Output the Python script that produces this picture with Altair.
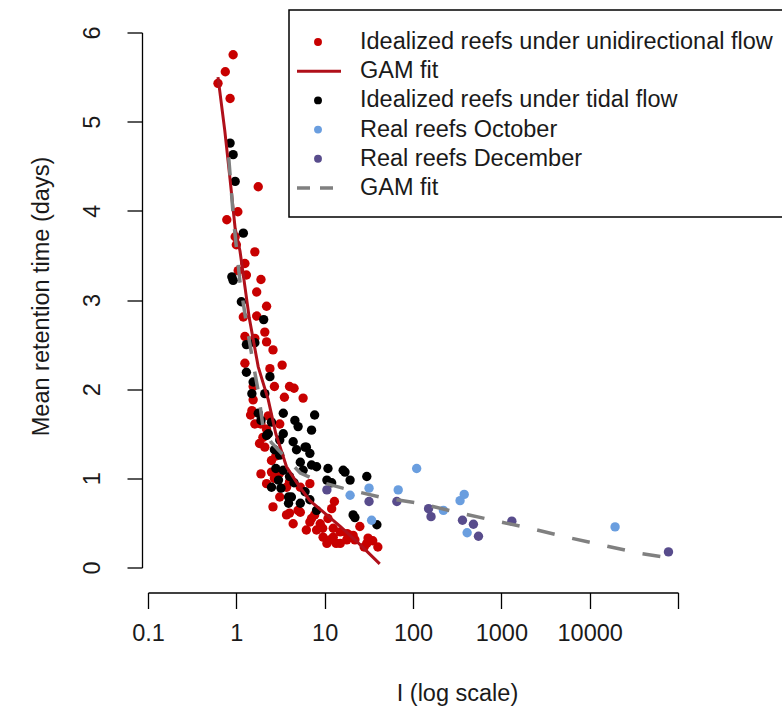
import altair as alt
import pandas as pd

# ---------------- data ----------------
# Idealized reefs under unidirectional flow
uni_x = [0.92, 0.75, 0.62, 0.85, 1.77, 1.04, 0.78, 0.97, 1.00,
         1.62, 1.25, 1.05, 1.30, 1.90, 1.70, 2.20, 1.20, 1.70,
         2.10, 1.25, 1.62, 2.20, 2.60, 1.25, 2.40, 3.30, 2.70,
         4.00, 3.50, 5.70, 4.50, 1.55, 1.50, 1.62, 3.10, 2.30,
         2.00, 2.10, 1.55, 1.45, 1.90, 2.50, 2.70, 3.10, 3.70,
         4.00, 5.30, 6.80, 5.30, 7.70, 6.80, 9.50, 10.9, 12.9,
         12.5, 15.0, 17.8, 21.0, 25.0, 30.0, 31.0, 40.0, 35.0,
         18.0, 22.0, 12.5, 10.6, 1.90, 2.50, 1.83, 4.00, 3.10,
         5.00, 7.10, 8.90, 12.0, 15.0, 28.0, 19.4, 2.20, 2.60,
         3.70, 4.40, 6.20, 8.10, 9.60, 11.5, 13.5, 2.20, 2.80]
uni_y = [5.75, 5.56, 5.43, 5.26, 4.27, 3.99, 3.90, 3.71, 3.62,
         3.54, 3.41, 3.33, 3.28, 3.23, 3.09, 2.93, 2.81, 2.82,
         2.64, 2.59, 2.57, 2.53, 2.44, 2.29, 2.23, 2.27, 2.03,
         2.03, 1.91, 1.90, 2.01, 2.03, 1.76, 1.61, 1.61, 1.70,
         1.46, 1.35, 1.88, 1.71, 1.61, 1.20, 1.00, 1.06, 0.90,
         0.96, 0.90, 0.94, 0.62, 0.59, 0.51, 0.44, 0.55, 0.74,
         0.44, 0.40, 0.31, 0.36, 0.46, 0.27, 0.33, 0.23, 0.30,
         0.38, 0.31, 0.34, 0.27, 1.05, 1.07, 1.39, 0.61, 0.79,
         0.64, 0.55, 0.49, 0.66, 0.27, 0.23, 0.34, 0.94, 0.68,
         0.59, 0.49, 0.42, 0.42, 0.34, 0.31, 0.27, 1.55, 1.25]

# Idealized reefs under tidal flow
tid_x = [0.85, 0.92, 0.97, 1.20, 0.92, 0.89, 1.14, 2.04, 1.62,
         1.30, 2.40, 1.55, 1.50, 1.77, 1.90, 2.50, 3.40, 4.60,
         7.70, 7.10, 5.00, 2.20, 3.10, 4.40, 6.20, 3.40, 2.30,
         2.70, 3.10, 4.80, 6.00, 6.80, 8.10, 5.30, 10.9, 16.2,
         19.4, 30.0, 10.6, 2.50, 3.20, 4.20, 5.30, 3.90, 6.80,
         8.10, 21.0, 22.0, 39.0, 3.40, 4.00, 5.70, 2.80, 17.0,
         7.10, 3.90, 12.0, 1.30, 2.10, 4.50, 6.00, 3.00]
tid_y = [4.76, 4.63, 4.33, 3.75, 3.22, 3.26, 2.98, 2.78, 2.52,
         2.19, 2.14, 2.08, 1.95, 1.73, 1.65, 1.63, 1.73, 1.65,
         1.71, 1.54, 1.58, 1.48, 1.43, 1.41, 1.35, 1.50, 1.50,
         1.32, 1.26, 1.32, 1.35, 1.28, 1.13, 1.18, 1.11, 1.09,
         0.98, 1.02, 0.98, 0.90, 0.89, 0.79, 0.72, 0.72, 0.76,
         0.64, 0.59, 0.56, 0.48, 1.09, 1.02, 1.09, 1.11, 1.07,
         1.15, 0.79, 0.95, 2.50, 1.95, 0.95, 0.85, 0.98]

# Real reefs October
oct_x = [19.4, 31.8, 34.0, 68.0, 110.0, 221.0, 341.0, 380.0, 410.0, 19400.0]
oct_y = [0.81, 0.89, 0.53, 0.87, 1.11, 0.64, 0.75, 0.82, 0.39, 0.455]

# Real reefs December
dec_x = [10.6, 31.8, 65.6, 150.0, 160.0, 363.0, 483.0, 551.0, 1315.0, 78000.0]
dec_y = [0.87, 0.74, 0.74, 0.66, 0.57, 0.53, 0.485, 0.35, 0.52, 0.175]

# GAM fit, idealized unidirectional
fit_uni_x = [0.62, 0.74, 0.85, 0.97, 1.1, 1.4, 1.77, 2.3, 2.8, 3.7, 5.0, 6.8, 10, 15, 25, 42]
fit_uni_y = [5.5, 4.9, 4.35, 3.8, 3.55, 2.8, 2.25, 1.88, 1.5, 1.13, 0.93, 0.75, 0.61, 0.46, 0.26, 0.04]

# GAM fit, tidal + real reefs
fit_all_x = [0.82, 0.93, 1.1, 1.3, 1.55, 1.76, 2.02, 2.5, 3.4, 5.3, 8.9, 16, 42, 120,
             310, 800, 2100, 5500, 14000, 37000, 78000]
fit_all_y = [4.6, 3.9, 3.2, 2.74, 2.29, 1.99, 1.55, 1.40, 1.26, 1.06, 0.96, 0.89, 0.79, 0.72,
             0.62, 0.53, 0.44, 0.34, 0.25, 0.16, 0.11]

legend_labels = ["Idealized reefs under unidirectional flow", "GAM fit",
                 "Idealized reefs under tidal flow", "Real reefs October",
                 "Real reefs December", "GAM fit"]
legend_kinds = ["point", "line", "point", "point", "point", "dash"]

x_ticks = [0.1, 1, 10, 100, 1000, 10000, 100000]
y_ticks = [0, 1, 2, 3, 4, 5, 6]

# ---------------- styling ----------------
FONT = "Liberation Sans"
FS = 23.5
RED_PT = "#C80000"
RED_LN = "#B0101A"
BLACK = "#000000"
BLUE = "#6A9EDF"
PURPLE = "#584C8C"
GRAY = "#808080"
colors = [RED_PT, RED_LN, BLACK, BLUE, PURPLE, GRAY]

W, H = 530, 535
PT = 88

xscale = alt.Scale(type="log", domain=[0.1, 100000], nice=False)
yscale = alt.Scale(domain=[0, 6], nice=False, zero=False)

x_axis = alt.Axis(
    values=x_ticks,
    labelExpr="datum.value < 1 ? '0.1' : (datum.value > 50000 ? '' : format(datum.value, 'd'))",
    title="I (log scale)", offset=25, tickSize=16, labelPadding=13,
    grid=False, labelFlush=False, labelOverlap=False,
    titleX=309, titleY=108, titleBaseline="alphabetic", titleAlign="center",
)
y_axis = alt.Axis(
    values=y_ticks, format="d", title="Mean retention time (days)",
    offset=6, tickSize=15, labelPadding=28, grid=False,
    labelAngle=-90, labelAlign="center", labelBaseline="alphabetic",
    labelFlush=False, labelOverlap=False,
    titleAngle=-90, titleX=-94, titleY=H / 2 - 4, titleBaseline="alphabetic", titleAlign="center",
)


def pts(xs, ys, color):
    df = pd.DataFrame({"I": xs, "T": ys})
    return alt.Chart(df).mark_circle(size=PT, opacity=1, color=color).encode(
        x=alt.X("I:Q", scale=xscale, axis=x_axis),
        y=alt.Y("T:Q", scale=yscale, axis=y_axis),
    )


def line(xs, ys, color, width, dash=None):
    df = pd.DataFrame({"I": xs, "T": ys})
    kw = dict(color=color, strokeWidth=width)
    if dash:
        kw["strokeDash"] = dash
    return alt.Chart(df).mark_line(**kw).encode(
        x=alt.X("I:Q", scale=xscale, axis=x_axis),
        y=alt.Y("T:Q", scale=yscale, axis=y_axis),
    )


layers = [
    pts(uni_x, uni_y, RED_PT),
    pts(tid_x, tid_y, BLACK),
    pts(oct_x, oct_y, BLUE),
    pts(dec_x, dec_y, PURPLE),
    line(fit_uni_x, fit_uni_y, RED_LN, 3),
    line(fit_all_x, fit_all_y, GRAY, 3.5, [18, 18]),
]

# ---------------- legend (drawn inside the plot, R style) ----------------
one = pd.DataFrame({"k": [0]})
layers.append(
    alt.Chart(one).mark_rect(fill="white", stroke="black", strokeWidth=1.5).encode(
        x=alt.value(141), x2=alt.value(645), y=alt.value(-22.5), y2=alt.value(184.5)
    )
)
row0, step = 9.5, 29.2
for i, (lab, kind, col) in enumerate(zip(legend_labels, legend_kinds, colors)):
    yy = row0 + step * i
    if kind == "point":
        layers.append(
            alt.Chart(one).mark_circle(size=62, opacity=1, color=col).encode(
                x=alt.value(170), y=alt.value(yy)
            )
        )
    else:
        kw = dict(color=col, strokeWidth=3 if kind == "line" else 3.5)
        if kind == "dash":
            kw["strokeDash"] = [13, 10]
        layers.append(
            alt.Chart(one).mark_rule(**kw).encode(
                x=alt.value(149), x2=alt.value(193), y=alt.value(yy)
            )
        )
    layers.append(
        alt.Chart(pd.DataFrame({"label": [lab]})).mark_text(
            align="left", baseline="middle", font=FONT, fontSize=FS, color="#1a1a1a"
        ).encode(x=alt.value(212), y=alt.value(yy), text="label:N")
    )

chart = alt.layer(*layers).properties(
    width=W, height=H,
    autosize=alt.AutoSizeParams(type="none"),
    padding={"left": 148, "top": 32.5, "right": 782 - 148 - W, "bottom": 707 - 32.5 - H},
    background="white",
).configure_view(stroke=None).configure_axis(
    domainColor="black", tickColor="black", domainWidth=1.3, tickWidth=1.3,
    labelFont=FONT, labelFontSize=FS, labelColor="#1a1a1a",
    titleFont=FONT, titleFontSize=FS, titleColor="#1a1a1a", titleFontWeight="normal",
)

chart.save("out.html", embed_options={"renderer": "svg", "actions": False})
